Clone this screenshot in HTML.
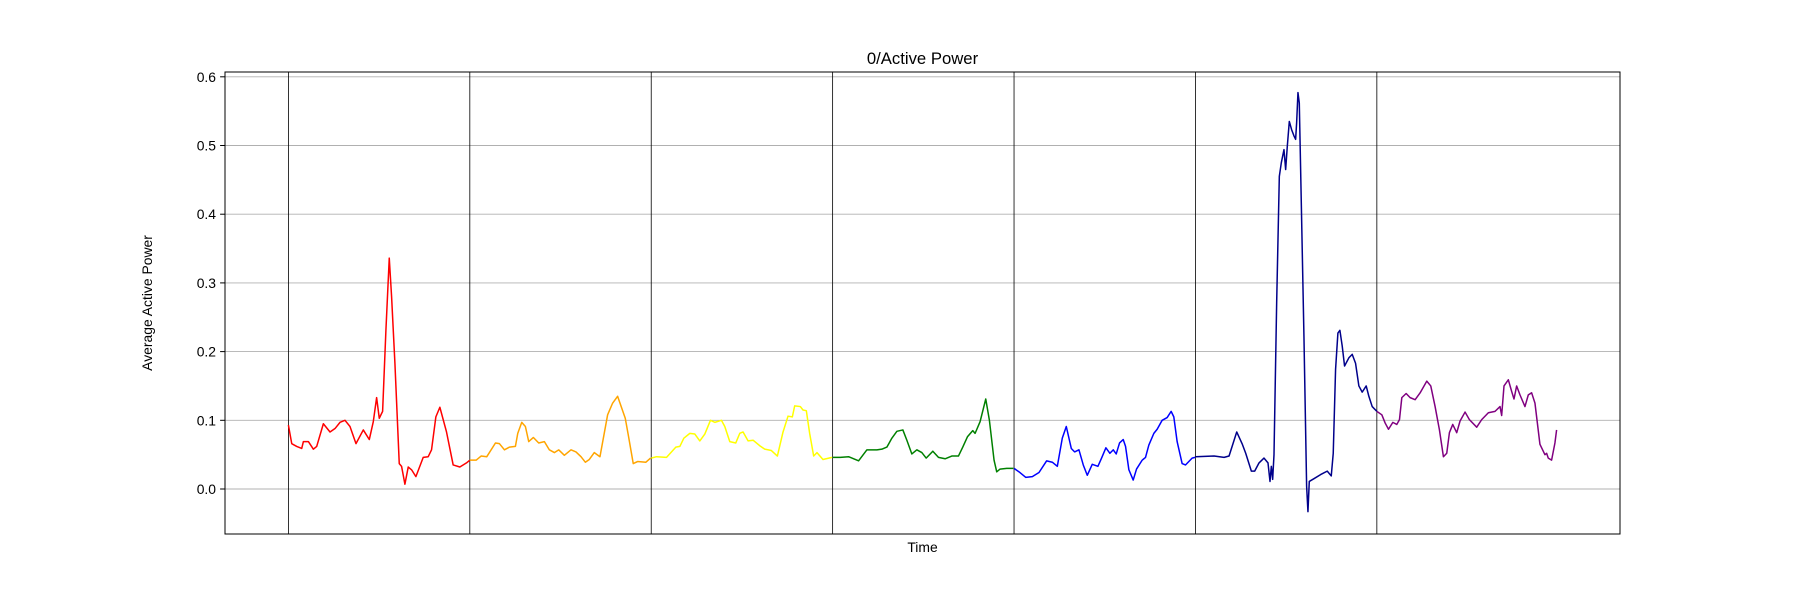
<!DOCTYPE html>
<html><head><meta charset="utf-8"><style>
html,body{margin:0;padding:0;background:#fff;}
svg{display:block;font-family:"Liberation Sans","DejaVu Sans",sans-serif;}
</style></head><body>
<svg id="chart" width="1800" height="600" viewBox="0 0 1800 600" xmlns="http://www.w3.org/2000/svg">
<rect width="1800" height="600" fill="#fff"/>
<g id="grid"></g>
<g id="vlines"></g>
<g id="series"></g>
<g id="yaxis"></g>
<rect x="225" y="72" width="1395" height="462" fill="none" stroke="#000" stroke-width="1"/>
<text x="922.5" y="64" text-anchor="middle" font-size="16.7">0/Active Power</text>
<text x="922.5" y="552" text-anchor="middle" font-size="13.9">Time</text>
<text transform="translate(152,303) rotate(-90)" text-anchor="middle" font-size="13.9">Average Active Power</text>
</svg>
<script>
const segLength = 545;
const segColors = ["red","orange","yellow","green","blue","darkblue","purple"];
const yTicks = [0.0,0.1,0.2,0.3,0.4,0.5,0.6];
const yTickLabels = ["0.0","0.1","0.2","0.3","0.4","0.5","0.6"];
const redT = [0,10,25,40,45,60,75,85,105,125,140,155,170,185,203,225,243,255,265,273,283,293,303,310,320,333,340,350,360,370,383,405,420,430,443,455,475,495,515,535,545];
const redV = [0.093,0.066,0.062,0.059,0.069,0.069,0.058,0.062,0.095,0.083,0.088,0.097,0.100,0.091,0.066,0.086,0.072,0.098,0.133,0.103,0.113,0.232,0.336,0.28,0.183,0.037,0.033,0.007,0.032,0.028,0.018,0.046,0.047,0.057,0.105,0.119,0.083,0.035,0.032,0.038,0.042];
const orangeT = [0,19,34,51,77,89,104,119,137,144,156,167,177,191,207,224,239,254,267,284,304,319,334,347,359,374,391,414,429,444,467,477,491,504,529,543];
const orangeV = [0.042,0.042,0.048,0.047,0.067,0.066,0.057,0.061,0.062,0.081,0.097,0.091,0.069,0.075,0.067,0.069,0.057,0.053,0.057,0.049,0.057,0.054,0.047,0.039,0.043,0.053,0.047,0.108,0.125,0.135,0.103,0.076,0.037,0.040,0.039,0.045];
const yellowT = [0,16,46,74,86,98,116,131,146,161,178,191,211,221,236,254,266,276,291,306,326,341,361,379,396,411,424,431,448,456,466,476,488,498,516,543];
const yellowV = [0.045,0.047,0.046,0.061,0.062,0.074,0.081,0.080,0.070,0.080,0.100,0.097,0.100,0.091,0.069,0.067,0.081,0.083,0.070,0.071,0.063,0.058,0.056,0.048,0.083,0.106,0.105,0.121,0.120,0.115,0.114,0.081,0.048,0.053,0.043,0.046];
const greenT = [0,23,48,78,103,133,148,163,178,193,211,223,238,253,268,281,301,318,338,358,378,391,405,421,428,443,460,471,485,493,503,523,543];
const greenV = [0.046,0.046,0.047,0.041,0.057,0.057,0.058,0.061,0.074,0.084,0.086,0.071,0.051,0.057,0.053,0.045,0.055,0.046,0.044,0.048,0.048,0.061,0.076,0.085,0.081,0.098,0.131,0.100,0.042,0.025,0.029,0.030,0.030];
const blueT = [0,15,35,55,75,98,115,130,145,157,172,182,195,208,220,235,252,263,276,288,298,307,317,328,335,345,358,368,385,395,405,420,430,445,460,472,480,490,505,515,535,544];
const blueV = [0.030,0.025,0.017,0.018,0.024,0.041,0.039,0.033,0.074,0.091,0.059,0.054,0.057,0.035,0.020,0.036,0.033,0.045,0.060,0.052,0.057,0.051,0.067,0.072,0.062,0.028,0.013,0.029,0.042,0.046,0.064,0.081,0.087,0.100,0.104,0.113,0.105,0.069,0.037,0.035,0.045,0.046];
const navyT = [0,56,86,101,124,141,151,168,178,191,206,218,224,228,232,236,244,252,258,266,271,276,282,289,296,301,304,308,312,318,326,334,338,342,356,376,396,408,414,421,428,434,441,448,461,471,481,491,501,513,521,531,545];
const navyV = [0.047,0.048,0.046,0.048,0.083,0.065,0.052,0.026,0.026,0.038,0.045,0.038,0.011,0.033,0.014,0.05,0.271,0.455,0.475,0.494,0.465,0.499,0.535,0.523,0.514,0.509,0.533,0.577,0.562,0.417,0.222,0.004,-0.033,0.011,0.015,0.021,0.026,0.019,0.052,0.174,0.227,0.231,0.208,0.179,0.191,0.196,0.183,0.150,0.141,0.150,0.135,0.120,0.113];
const purpleT = [0,15,25,35,48,60,68,75,88,100,115,130,150,162,175,188,200,210,218,228,240,250,265,278,300,315,335,355,370,375,382,395,405,412,420,430,445,455,465,475,490,505,510,515,525,535,540];
const purpleV = [0.113,0.108,0.096,0.087,0.097,0.094,0.101,0.133,0.139,0.133,0.130,0.140,0.157,0.150,0.120,0.086,0.047,0.052,0.082,0.094,0.082,0.099,0.112,0.101,0.090,0.101,0.111,0.113,0.120,0.107,0.150,0.159,0.142,0.131,0.150,0.137,0.120,0.137,0.140,0.125,0.065,0.050,0.052,0.045,0.042,0.067,0.086];
const segNames = ["segment-1","segment-2","segment-3","segment-4","segment-5","segment-6","segment-7"];

const NS = "http://www.w3.org/2000/svg";
const segs = [[redT,redV],[orangeT,orangeV],[yellowT,yellowV],[greenT,greenV],[blueT,blueV],[navyT,navyV],[purpleT,purpleV]];
let xmin = Infinity, xmax = -Infinity;
segs.forEach((s,i)=>s[0].forEach(t=>{const g=i*segLength+t; xmin=Math.min(xmin,g); xmax=Math.max(xmax,g);}));
const span = xmax - xmin;
const X0 = xmin - 0.05*span, X1 = xmax + 0.05*span;
const PL = 225, PR = 1620, PT = 72, PB = 534;
const Y0 = -0.0655, Y1 = 0.607;
function sx(v){ return PL + (v - X0)/(X1 - X0)*(PR - PL); }
function sy(v){ return PB - (v - Y0)/(Y1 - Y0)*(PB - PT); }

const grid = document.getElementById('grid');
const yaxis = document.getElementById('yaxis');
yTicks.forEach((v,i)=>{
  const y = sy(v);
  const gl = document.createElementNS(NS,'line');
  gl.setAttribute('x1',PL); gl.setAttribute('x2',PR); gl.setAttribute('y1',y); gl.setAttribute('y2',y);
  gl.setAttribute('stroke','#b0b0b0'); gl.setAttribute('stroke-width','0.9');
  
  
  grid.appendChild(gl);
  const tk = document.createElementNS(NS,'line');
  tk.setAttribute('x1',PL-4.9); tk.setAttribute('x2',PL); tk.setAttribute('y1',y); tk.setAttribute('y2',y);
  tk.setAttribute('stroke','#000'); tk.setAttribute('stroke-width','1');
  
  
  yaxis.appendChild(tk);
  const tx = document.createElementNS(NS,'text');
  tx.setAttribute('x',PL-9); tx.setAttribute('y',y+5); tx.setAttribute('text-anchor','end'); tx.setAttribute('font-size','13.9');
  tx.textContent = yTickLabels[i];
  
  
  yaxis.appendChild(tx);
});

const vl = document.getElementById('vlines');
segs.forEach((s,i)=>{
  const x = sx(i*segLength);
  const l = document.createElementNS(NS,'line');
  l.setAttribute('x1',x); l.setAttribute('x2',x); l.setAttribute('y1',PT); l.setAttribute('y2',PB);
  l.setAttribute('stroke','#000'); l.setAttribute('stroke-width','0.8');
  
  
  vl.appendChild(l);
});

const ser = document.getElementById('series');
segs.forEach((s,i)=>{
  const pts = s[0].map((t,j)=>sx(i*segLength+t).toFixed(2)+','+sy(s[1][j]).toFixed(2)).join(' ');
  const p = document.createElementNS(NS,'polyline');
  p.setAttribute('points',pts); p.setAttribute('fill','none');
  p.setAttribute('stroke',segColors[i]); p.setAttribute('stroke-width','1.5');
  p.setAttribute('stroke-linejoin','round');
  
  
  ser.appendChild(p);
});
</script>
</body></html>
